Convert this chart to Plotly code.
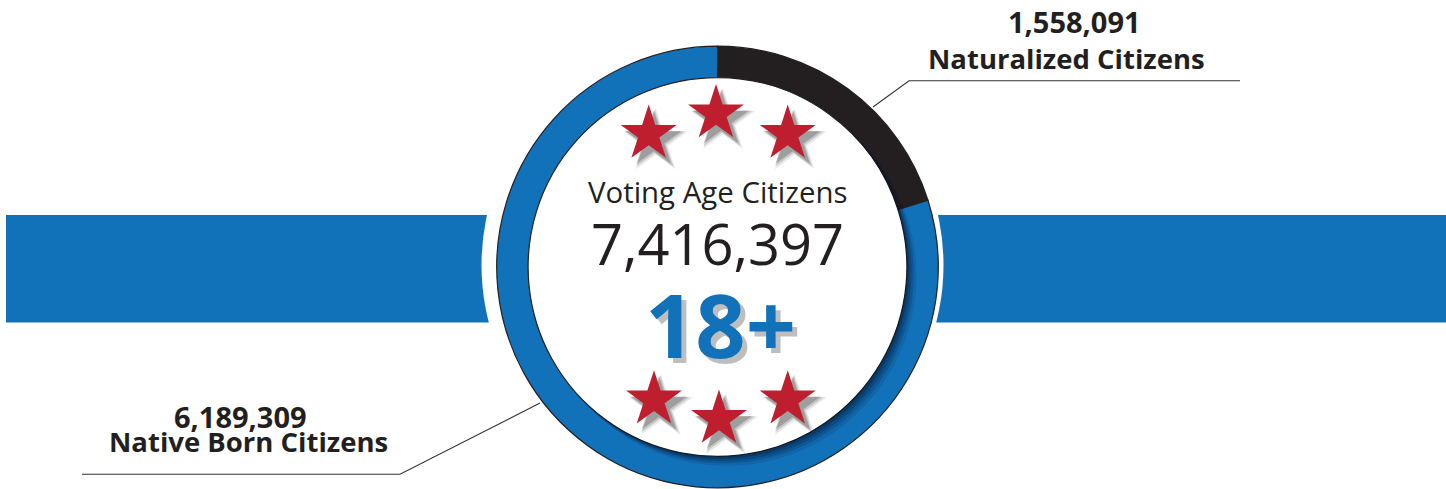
import numpy as np
import plotly.graph_objects as go

# ---- data ----
categories = ["Naturalized Citizens", "Native Born Citizens"]
values = [1558091, 6189309]
total_label = "7,416,397"
center_title = "Voting Age Citizens"
age_label = "18+"
value_labels = ["1,558,091", "6,189,309"]

# ---- styling / geometry ----
W, H = 1446, 489
BLUE = "#1172BA"
BLACK = "#231F20"
RED = "#BE1E2D"
CX, CY = 717.5, 267.0
R_OUT = 220.8
R_IN = 189.4

fig = go.Figure()

# donut ring
fig.add_trace(go.Pie(
    labels=categories, values=values, sort=False, direction="clockwise",
    rotation=0, hole=R_IN / R_OUT, textinfo="none", hoverinfo="label+value",
    marker=dict(colors=[BLACK, BLUE], line=dict(color=BLACK, width=1.2)),
    domain=dict(x=[(CX - R_OUT) / W, (CX + R_OUT) / W],
                y=[(H - CY - R_OUT) / H, (H - CY + R_OUT) / H]),
    showlegend=False,
))

# stars with shadows (decoration)
star_x = [648.7, 716, 787.7, 654, 719, 787.7]
star_y = [134, 113.5, 134, 399.7, 419, 399.7]
STAR_SIZE = 42
for off, alpha, grow in [(7, 0.10, 6), (6, 0.18, 3), (5, 0.25, 0)]:
    fig.add_trace(go.Scatter(
        x=[v + off for v in star_x], y=[v + off + 1 for v in star_y], mode="markers",
        marker=dict(symbol="star", size=STAR_SIZE + grow, color=f"rgba(40,40,40,{alpha})",
                    line=dict(width=0)),
        hoverinfo="skip", showlegend=False))
fig.add_trace(go.Scatter(
    x=star_x, y=star_y, mode="markers",
    marker=dict(symbol="star", size=STAR_SIZE, color=RED, line=dict(width=0)),
    hoverinfo="skip", showlegend=False))

shapes = []
# horizontal bars
BAR_Y0, BAR_Y1 = 215, 322.5
shapes.append(dict(type="rect", xref="x", yref="y", x0=6, x1=CX, y0=BAR_Y0, y1=BAR_Y1,
                   fillcolor=BLUE, line=dict(width=0), layer="below"))
shapes.append(dict(type="rect", xref="x", yref="y", x0=CX, x1=W + 5, y0=BAR_Y0, y1=BAR_Y1,
                   fillcolor=BLUE, line=dict(width=0), layer="below"))
# white gap around ring
GX, GR = 712.5, 231
shapes.append(dict(type="circle", xref="x", yref="y", x0=GX - GR, x1=GX + GR,
                   y0=CY - 2 - GR, y1=CY - 2 + GR, fillcolor="white",
                   line=dict(width=0), layer="below"))

# inner shadow on ring (bottom-right)
th = np.radians(np.linspace(-50, 140, 120))
for wmax, a in [(13, 0.12), (9.5, 0.16), (6.5, 0.22), (3.5, 0.28)]:
    w = wmax * np.clip(np.cos(th - np.radians(45)), 0, None)
    xi = CX + R_IN * np.cos(th)
    yi = CY + R_IN * np.sin(th)
    xo = CX + (R_IN + w) * np.cos(th[::-1])
    yo = CY + (R_IN + w) * np.sin(th[::-1])
    pts = [f"{x:.2f},{y:.2f}" for x, y in zip(np.r_[xi, xo], np.r_[yi, yo])]
    path = "M" + " L".join(pts) + " Z"
    shapes.append(dict(type="path", xref="x", yref="y", path=path,
                       fillcolor=f"rgba(5,20,45,{a})", line=dict(width=0), layer="above"))

# leader lines
LINE = dict(color="#333333", width=1.1)
shapes.append(dict(type="path", xref="x", yref="y",
                   path="M873,107 L909,80.7 L1240,80.7", line=LINE, layer="above"))
shapes.append(dict(type="path", xref="x", yref="y",
                   path="M540,403 L400,474.3 L82,474.3", line=LINE, layer="above"))

annotations = []
def txt(x, y, text, size, color, family, bold=False, **kw):
    annotations.append(dict(
        x=x, y=y, xref="x", yref="y", text=f"<b>{text}</b>" if bold else text,
        showarrow=False, xanchor="center", yanchor="middle",
        font=dict(size=size, color=color, family=family), **kw))

BOLD_FONT = "Open Sans"
txt(1074, 21.5, value_labels[0], 29, BLACK, BOLD_FONT, bold=True)
txt(1066.5, 58, categories[0], 27.5, BLACK, BOLD_FONT, bold=True)
txt(240, 416, value_labels[1], 29, BLACK, BOLD_FONT, bold=True)
txt(248.5, 441.5, categories[1], 27.5, BLACK, BOLD_FONT, bold=True)

txt(717.5, 191.5, center_title, 29.4, BLACK, "Open Sans")
txt(717, 242.5, total_label, 56, BLACK, "Open Sans")
# 18+ with shadow
txt(725, 329, age_label, 88, "rgba(40,40,40,0.30)", "Open Sans", bold=True)
txt(720, 324, age_label, 88, BLUE, "Open Sans", bold=True)

fig.update_layout(
    width=W, height=H, margin=dict(l=0, r=0, t=0, b=0),
    paper_bgcolor="white", plot_bgcolor="white",
    xaxis=dict(range=[0, W], visible=False, fixedrange=True),
    yaxis=dict(range=[H, 0], visible=False, fixedrange=True),
    shapes=shapes, annotations=annotations, showlegend=False,
)

fig.write_html(
    "out.html",
    config={"displayModeBar": False},
    post_script="document.body.style.margin='0';document.body.style.overflow='hidden';",
)
